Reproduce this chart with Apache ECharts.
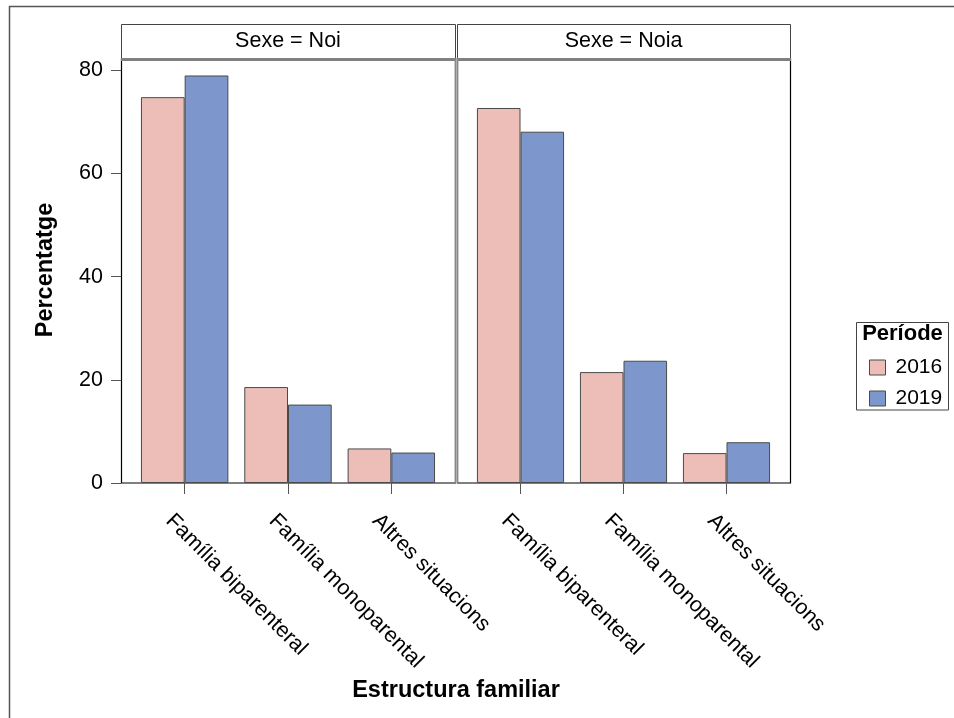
<!DOCTYPE html>
<html>
<head>
<meta charset="utf-8">
<script src="https://cdn.jsdelivr.net/npm/echarts@6/dist/echarts.min.js"></script>
<style>
html,body{margin:0;padding:0;background:#fff;}
#chart{width:954px;height:718px;}
</style>
</head>
<body>
<div id="chart"></div>
<script>
// ---- data ----
const categories = ['Família biparenteral', 'Família monoparental', 'Altres situacions'];
const panelTitles = ['Sexe = Noi', 'Sexe = Noia'];
const periods = ['2016', '2019'];
const noi2016 = [74.8, 18.6, 6.7];
const noi2019 = [79.0, 15.2, 5.9];
const noia2016 = [72.7, 21.5, 5.8];
const noia2019 = [68.1, 23.7, 7.9];
const yTicks = [0, 20, 40, 60, 80];
const yTitle = 'Percentatge';
const xTitle = 'Estructura familiar';
const legendTitle = 'Període';

// ---- layout ----
const FONT = 'Liberation Sans, Arial, sans-serif';
const colors = ['#EDBEB7', '#7D97CC'];
const plotTop = 60, plotBottom = 483;
const frames = [[121, 455], [457, 790]];
const pad = 12;
const yMax = 82;

const chart = echarts.init(document.getElementById('chart'), null, {renderer: 'canvas'});

const grids = frames.map(f => ({
  left: f[0] + pad, width: (f[1] - f[0]) - 2 * pad,
  top: plotTop, height: plotBottom - plotTop
}));

const xAxes = frames.map((f, i) => ({
  type: 'category', gridIndex: i, data: categories,
  axisLine: {show: false},
  axisTick: {show: true, alignWithLabel: true, length: 11, lineStyle: {color: '#555', width: 1}},
  axisLabel: {
    rotate: -45, align: 'left', verticalAlign: 'top', lineHeight: 44, margin: 19,
    fontFamily: FONT, fontSize: 21.5, color: '#000', interval: 0
  },
  splitLine: {show: false}
}));

const yAxes = frames.map((f, i) => ({
  type: 'value', gridIndex: i, min: 0, max: yMax, show: i === 0,
  offset: pad,
  axisLine: {show: false},
  axisTick: {show: true, length: 10, lineStyle: {color: '#555'}, customValues: yTicks},
  axisLabel: {fontFamily: FONT, fontSize: 21.5, color: '#000', margin: 18, customValues: yTicks},
  splitLine: {show: false}
}));

const seriesData = [[noi2016, noi2019], [noia2016, noia2019]];
const series = [];
seriesData.forEach((pair, gi) => {
  pair.forEach((vals, pi) => {
    series.push({
      type: 'bar', name: periods[pi], xAxisIndex: gi, yAxisIndex: gi,
      data: vals, barWidth: '42.3%', barGap: '0%',
      itemStyle: {color: colors[pi], borderColor: '#4a4a4a', borderWidth: 1},
      emphasis: {disabled: true}
    });
  });
});

const graphics = [];
// outer border (top + left)
graphics.push({type: 'line', shape: {x1: 9, y1: 6.5, x2: 954, y2: 6.5}, style: {stroke: '#555', lineWidth: 1.5}, z: 0});
graphics.push({type: 'line', shape: {x1: 9.5, y1: 6, x2: 9.5, y2: 718}, style: {stroke: '#555', lineWidth: 1.5}, z: 0});

frames.forEach((f, i) => {
  const w = f[1] - f[0];
  // header strip
  graphics.push({type: 'rect', shape: {x: f[0] + 0.5, y: 24.5, width: w, height: 34}, style: {fill: '#fff', stroke: '#444', lineWidth: 1}, z: 0});
  graphics.push({type: 'text', x: f[0] + w / 2, y: 41, style: {text: panelTitles[i], fontFamily: FONT, fontSize: 21.5, fill: '#000', textAlign: 'center', textVerticalAlign: 'middle'}, z: 1});
  // plot frame
  graphics.push({type: 'rect', shape: {x: f[0] + 0.5, y: plotTop - 1.5, width: w, height: plotBottom - plotTop + 1.5}, style: {fill: 'none', stroke: '#000', lineWidth: 1.2}, z: 0});
  // thick gray line under header
  graphics.push({type: 'line', shape: {x1: f[0], y1: 59.5, x2: f[1] + 1, y2: 59.5}, style: {stroke: '#808080', lineWidth: 3}, z: 1});
});
// inner panel separators in gray
graphics.push({type: 'line', shape: {x1: 455.5, y1: 58, x2: 455.5, y2: plotBottom}, style: {stroke: '#888', lineWidth: 1.5}, z: 1});
graphics.push({type: 'line', shape: {x1: 457.5, y1: 58, x2: 457.5, y2: plotBottom}, style: {stroke: '#888', lineWidth: 1.5}, z: 1});

// axis titles
graphics.push({type: 'text', x: 46, y: 270, rotation: Math.PI / 2, style: {text: yTitle, fontFamily: FONT, fontSize: 23.5, fontWeight: 'bold', fill: '#000', textAlign: 'center', textVerticalAlign: 'middle'}, z: 1});
graphics.push({type: 'text', x: 456, y: 691, style: {text: xTitle, fontFamily: FONT, fontSize: 23.5, fontWeight: 'bold', fill: '#000', textAlign: 'center', textVerticalAlign: 'middle'}, z: 1});

// legend box + title
graphics.push({type: 'rect', shape: {x: 856.5, y: 322.5, width: 92, height: 87.5}, style: {fill: '#fff', stroke: '#444', lineWidth: 1}, z: 0});
graphics.push({type: 'text', x: 902.5, y: 334, style: {text: legendTitle, fontFamily: FONT, fontSize: 22, fontWeight: 'bold', fill: '#000', textAlign: 'center', textVerticalAlign: 'middle'}, z: 1});

const option = {
  animation: false,
  backgroundColor: '#fff',
  grid: grids,
  xAxis: xAxes,
  yAxis: yAxes,
  legend: {
    data: periods, orient: 'vertical', left: 864, top: 352,
    itemWidth: 16, itemHeight: 15, itemGap: 10, icon: 'rect',
    itemStyle: {borderColor: '#4a4a4a', borderWidth: 1},
    textStyle: {fontFamily: FONT, fontSize: 21, color: '#000', lineHeight: 20, padding: [0, 0, 0, 5]},
    selectedMode: false, z: 5
  },
  graphic: graphics,
  series: series
};
chart.setOption(option);
</script>
</body>
</html>
